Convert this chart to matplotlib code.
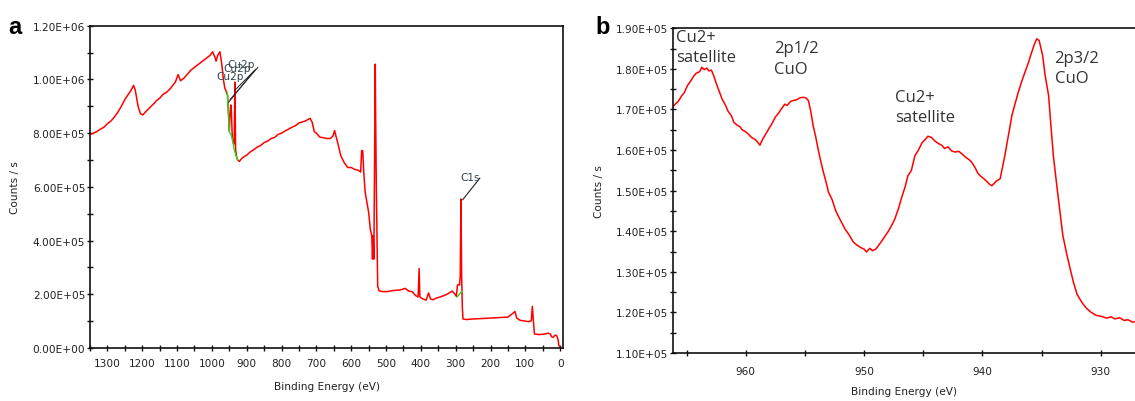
import matplotlib
matplotlib.use("Agg")
import matplotlib.pyplot as plt
from matplotlib.ticker import MultipleLocator, FuncFormatter

# ---- panel a: survey spectrum ----
survey_ev = [1350, 1340, 1330, 1320, 1310, 1300, 1290, 1280, 1270, 1260, 1250, 1245,
             1238, 1232, 1225, 1220, 1212, 1205, 1198, 1190, 1180, 1175, 1165, 1160,
             1150, 1140, 1130, 1120, 1112, 1105, 1097, 1090, 1080, 1060, 1040,
             1020, 1005, 998, 992, 988, 983, 977, 972, 967, 963, 958, 955, 952, 950,
             948, 946, 944, 942, 940, 938, 936, 934, 932, 930, 928, 925, 921, 915,
             908, 900, 890, 880, 870, 860, 850, 840, 830, 820, 810, 800, 790, 780,
             770, 760, 750, 740, 732, 725, 718, 712, 706, 700,
             690, 680, 670, 660, 652, 648, 644, 638, 630, 620, 610, 600, 590, 580,
             573, 570, 567, 564, 560, 556, 550, 545, 541, 539, 537, 535, 531, 530,
             528, 526, 524, 520, 510, 496, 480, 460, 445, 435, 425, 415, 408, 405,
             403, 395, 385, 378, 372, 365, 355, 340, 325, 310, 302, 298, 295, 289,
             287, 285, 283, 281, 279, 270, 250, 220, 200, 170, 150, 135, 130, 125,
             115, 100, 90, 83, 80, 77, 74, 60, 45, 35, 28, 25, 20, 15, 10, 6, 4, 0]
survey_k = [795, 800, 806, 815, 822, 835, 845, 860, 878, 900, 925, 935,
            948, 960, 978, 960, 900, 872, 868, 880, 893, 900, 912, 920,
            930, 945, 952, 965, 978, 990, 1018, 995, 1005, 1035, 1055,
            1075, 1090, 1103, 1085, 1068, 1090, 1103, 1060, 1000, 968, 952, 940, 860, 805,
            870, 905, 880, 800, 770, 760, 760, 990, 740, 720, 705, 698, 695, 705,
            712, 718, 730, 738, 748, 754, 765, 770, 780, 784, 795, 800, 808, 815,
            822, 828, 838, 842, 845, 850, 855, 840, 805, 800,
            785, 783, 780, 780, 790, 810, 790, 760, 716, 690, 672, 672, 665, 662,
            655, 735, 735, 654, 580, 550, 505, 440, 418, 331, 418, 331, 1057, 883,
            600, 420, 230, 213, 210, 210, 214, 216, 222, 212, 210, 195, 190, 296,
            190, 183, 178, 205, 182, 180, 186, 192, 200, 212, 200, 192, 235, 235,
            270, 555, 270, 150, 108, 106, 108, 110, 111, 113, 115, 130, 136, 112,
            103, 100, 98, 102, 155, 100, 52, 50, 52, 55, 52, 42, 40, 48, 46, 30, 10, 2]

# background fits (green)
cu_bg_ev = [956, 952, 950, 944, 940, 936, 932, 926]
cu_bg_k = [952, 860, 805, 790, 770, 740, 720, 700]
c_bg_ev = [296, 292, 288, 283]
c_bg_k = [190, 196, 203, 210]

# ---- panel b: Cu 2p region ----
cu_ev = [966.2, 966.0, 965.7, 965.4, 965.2, 964.9, 964.7, 964.4, 964.2, 963.9, 963.7,
         963.5, 963.3, 963.1, 962.9, 962.7, 962.5, 962.2, 962.0, 961.7, 961.5, 961.2,
         961.0, 960.7, 960.5, 960.3, 960.0, 959.8, 959.5, 959.2, 959.0, 958.8, 958.6,
         958.3, 958.0, 957.8, 957.5, 957.2, 957.0, 956.7, 956.5, 956.2, 956.0, 955.7,
         955.4, 955.1, 954.9, 954.7, 954.5, 954.3, 954.1, 953.9, 953.7, 953.5, 953.2,
         953.0, 952.7, 952.4, 952.1, 951.8, 951.6, 951.3, 950.9, 950.6, 950.3, 950.0,
         949.8, 949.5, 949.3, 949.0, 948.8, 948.5, 948.2, 947.9, 947.6, 947.4, 947.1,
         946.8, 946.5, 946.3, 946.0, 945.7, 945.4, 945.1, 944.8, 944.6, 944.3, 944.0,
         943.7, 943.4, 943.2, 942.9, 942.6, 942.3, 942.0, 941.7, 941.4, 941.1, 940.9,
         940.6, 940.4, 940.2, 939.9, 939.6, 939.4, 939.2, 939.0, 938.8, 938.5, 938.3,
         938.1, 937.9, 937.7, 937.5, 937.2, 937.0, 936.7, 936.4, 936.1, 935.9, 935.6,
         935.4, 935.2, 934.9, 934.7, 934.4, 934.2, 934.0, 933.7, 933.4, 933.2, 932.9,
         932.6, 932.3, 932.0, 931.6, 931.2, 930.8, 930.4, 929.9, 929.5, 929.1, 928.8,
         928.4, 928.0, 927.7, 927.3, 927.0]
cu_k = [170.5, 171.2, 172.0, 173.4, 174.1, 176.0, 176.8, 178.2, 178.9, 179.3, 180.4,
        179.8, 180.2, 179.5, 179.7, 178.3, 176.5, 174.2, 172.6, 171.0, 169.6, 168.4,
        166.8, 166.1, 165.8, 165.0, 164.5, 164.0, 163.1, 162.6, 162.0, 161.2, 162.5,
        164.0, 165.5, 166.4, 168.1, 169.2, 170.1, 171.3, 171.0, 172.0, 172.2, 172.4,
        172.9, 173.0, 172.8, 172.2, 169.5, 166.0, 163.5, 160.5, 157.8, 155.3, 152.0,
        149.6, 147.8, 145.1, 143.3, 141.6, 140.5, 139.3, 137.3, 136.6, 136.0, 135.6,
        134.9, 135.8, 135.2, 135.6, 136.4, 137.6, 138.9, 140.2, 141.8, 143.0, 145.5,
        148.5, 151.2, 153.6, 155.0, 158.6, 160.0, 161.8, 162.7, 163.4, 163.1, 162.2,
        161.6, 161.1, 160.4, 160.8, 159.8, 159.5, 159.7, 159.0, 158.2, 157.6, 157.0,
        155.6, 154.4, 153.7, 153.0, 152.2, 151.6, 151.2, 151.8, 152.4, 152.9, 155.8,
        158.6, 162.0, 165.2, 168.6, 171.8, 173.9, 176.7, 179.2, 181.6, 183.5, 186.1,
        187.4, 187.0, 183.2, 178.5, 173.4, 165.8, 158.6, 151.0, 143.8, 139.0, 134.8,
        131.0, 127.4, 124.5, 122.5, 121.0, 120.0, 119.3, 119.0, 118.6, 118.9, 118.4,
        118.7, 118.0, 118.2, 117.6, 117.8]

peak_labels = ["Cu2+\nsatellite", "2p1/2\nCuO", "Cu2+\nsatellite", "2p3/2\nCuO"]
peak_label_ev = [965.9, 957.6, 947.4, 933.9]
peak_label_k = [189.8, 187.0, 175.0, 184.6]


def sci_fmt(v, _pos):
    return "%.2E" % v


def style_axes(ax):
    for sp in ax.spines.values():
        sp.set_linewidth(1.2)
        sp.set_color("#111111")
    ax.tick_params(which="both", direction="inout", length=5, width=1.0,
                   colors="#111111", labelsize=7.6, labelcolor="#222222")
    ax.tick_params(axis="x", which="both", pad=5)
    ax.tick_params(axis="y", which="both", pad=1)
    ax.yaxis.set_major_formatter(FuncFormatter(sci_fmt))


fig = plt.figure(figsize=(11.35, 4.02), dpi=100)

# panel a
ax1 = fig.add_axes([90 / 1135, 1 - 349 / 402, 473 / 1135, 322.3 / 402])
ax1.plot(survey_ev, [k * 1000 for k in survey_k], color="#ff0000", lw=1.1)
ax1.plot(cu_bg_ev, [k * 1000 for k in cu_bg_k], color="#22dd22", lw=1.0)
ax1.plot(c_bg_ev, [k * 1000 for k in c_bg_k], color="#22dd22", lw=1.0)
ax1.set_xlim(1350, -8)
ax1.set_ylim(0, 1.2e6)
ax1.xaxis.set_major_locator(MultipleLocator(100))
ax1.xaxis.set_minor_locator(MultipleLocator(50))
ax1.yaxis.set_major_locator(MultipleLocator(2e5))
ax1.yaxis.set_minor_locator(MultipleLocator(1e5))
style_axes(ax1)
ax1.set_xlabel("Binding Energy (eV)", fontsize=7.6, color="#222222", labelpad=9)
ax1.set_ylabel("Counts / s", fontsize=7.6, color="#222222", labelpad=9)

# Cu2p and C1s peak markers (overlapping, as in the original)
for lx, ly in [(955, 1.057e6), (968, 1.042e6), (987, 1.012e6)]:
    ax1.text(lx, ly, "Cu2p", fontsize=7.6, color="#33414d", ha="left", va="center")
for (x0, y0), (x1, y1) in [((868, 1.045e6), (948, 0.925e6)),
                           ((874, 1.038e6), (934, 0.960e6)),
                           ((880, 1.030e6), (952, 0.915e6))]:
    ax1.plot([x0, x1], [y0, y1], color="#222222", lw=0.7)
ax1.text(287, 0.637e6, "C1s", fontsize=7.6, color="#33414d", ha="left", va="center")
ax1.plot([231, 280], [0.632e6, 0.552e6], color="#222222", lw=0.8)

# panel b
ax2 = fig.add_axes([672.7 / 1135, 1 - 354 / 402, 1 - 672.7 / 1135, 324.7 / 402])
ax2.plot(cu_ev, [k * 1000 for k in cu_k], color="#ff0000", lw=1.1)
ax2.set_xlim(966.17, 927.1)
ax2.set_ylim(1.1e5, 1.9e5)
ax2.xaxis.set_major_locator(MultipleLocator(10))
ax2.xaxis.set_minor_locator(MultipleLocator(5))
ax2.yaxis.set_major_locator(MultipleLocator(1e4))
ax2.yaxis.set_minor_locator(MultipleLocator(5e3))
style_axes(ax2)
ax2.tick_params(axis="x", which="both", pad=7)
ax2.spines["right"].set_visible(False)
ax2.set_xlabel("Binding Energy (eV)", fontsize=7.6, color="#222222", labelpad=7)
ax2.set_ylabel("Counts / s", fontsize=7.6, color="#222222", labelpad=8)

for txt, x, y in zip(peak_labels, peak_label_ev, peak_label_k):
    ax2.text(x, y * 1000, txt, fontsize=12, color="#333333", ha="left", va="top",
             family="Open Sans", linespacing=1.35)

fig.text(8 / 1135, 1 - 34 / 402, "a", fontsize=17, fontweight="bold",
         family="Liberation Sans")
fig.text(595 / 1135, 1 - 34 / 402, "b", fontsize=17, fontweight="bold",
         family="Liberation Sans")

fig.savefig("out.png", dpi=100)
